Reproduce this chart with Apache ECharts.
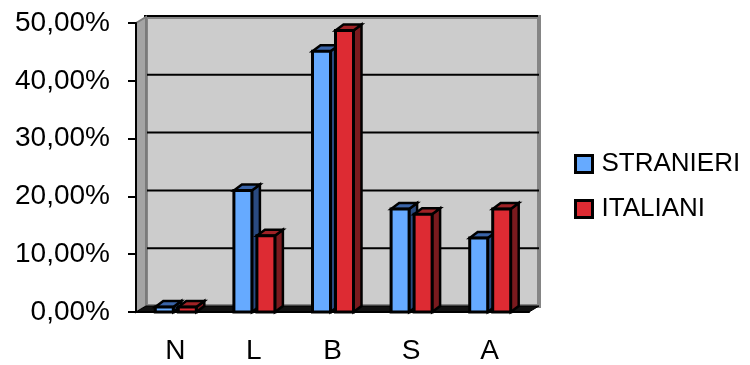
<!DOCTYPE html>
<html>
<head>
<meta charset="utf-8">
<script src="https://cdn.jsdelivr.net/npm/echarts@6/dist/echarts.min.js"></script>
<style>
	html, body { margin: 0; padding: 0; background: #fff; }
	#chart_1 { width: 750px; height: 365px; }
</style>
</head>
<body>
<div id="chart_1"></div>
<script>
// dati
var categorie = ['N', 'L', 'B', 'S', 'A'];
var stranieri = [0.85, 21.0, 45.1, 17.8, 12.8];
var italiani = [0.85, 13.2, 48.7, 16.9, 17.8];
var serieNomi = ['STRANIERI', 'ITALIANI'];
var lineeGriglia = [10, 20, 30, 40];

// profondita' finta 3D
var WALL_DX = 10, WALL_DY = -6;
var BAR_DX = 8, BAR_DY = -6;
var BAR_W = 18;
var FONT = 'Liberation Sans, Arial, sans-serif';

function fmtPerc(v) {
	return v.toFixed(2).replace('.', ',') + '%';
}

function renderWall(params, api) {
	var cs = params.coordSys;
	var x0 = cs.x, y0 = cs.y, w = cs.width, h = cs.height;
	var children = [];
	// parete di fondo
	children.push({
		type: 'rect',
		shape: { x: x0 + WALL_DX, y: y0 + WALL_DY, width: w, height: h },
		style: { fill: '#cccccc', stroke: '#858585', lineWidth: 4 }
	});
	children.push({
		type: 'line',
		shape: { x1: x0 + WALL_DX - 2, y1: y0 + WALL_DY - 1, x2: x0 + w + WALL_DX - 1, y2: y0 + WALL_DY - 1 },
		style: { stroke: '#000', lineWidth: 2 }
	});
	for (var i = 0; i < lineeGriglia.length; i++) {
		var y = api.coord([0, lineeGriglia[i]])[1] + WALL_DY;
		children.push({
			type: 'line',
			shape: { x1: x0 + WALL_DX, y1: y, x2: x0 + w + WALL_DX, y2: y },
			style: { stroke: '#000', lineWidth: 2 }
		});
	}
	// parete sinistra
	children.push({
		type: 'polygon',
		shape: { points: [[x0, y0], [x0 + WALL_DX, y0 + WALL_DY], [x0 + WALL_DX, y0 + h + WALL_DY], [x0, y0 + h]] },
		style: { fill: '#a4a4a4', stroke: '#7a7a7a', lineWidth: 2 }
	});
	// pavimento
	children.push({
		type: 'polygon',
		shape: { points: [[x0, y0 + h], [x0 + WALL_DX, y0 + h + WALL_DY], [x0 + w + WALL_DX, y0 + h + WALL_DY], [x0 + w, y0 + h]] },
		style: { fill: '#111', stroke: '#000', lineWidth: 1 }
	});
	return { type: 'group', children: children };
}

function barRenderer(offset, front, side, top) {
	return function (params, api) {
		var c = api.coord([api.value(0), api.value(1)]);
		var b = api.coord([api.value(0), 0]);
		var x1 = c[0] + offset, x2 = x1 + BAR_W, yt = c[1], yb = b[1];
		return {
			type: 'group',
			children: [{
				type: 'polygon',
				shape: { points: [[x2, yb], [x2 + BAR_DX, yb + BAR_DY], [x2 + BAR_DX, yt + BAR_DY], [x2, yt]] },
				style: { fill: side, stroke: '#000', lineWidth: 2.5 }
			}, {
				type: 'polygon',
				shape: { points: [[x1, yt], [x1 + BAR_DX, yt + BAR_DY], [x2 + BAR_DX, yt + BAR_DY], [x2, yt]] },
				style: { fill: top, stroke: '#000', lineWidth: 2.5 }
			}, {
				type: 'rect',
				shape: { x: x1, y: yt, width: BAR_W, height: yb - yt },
				style: { fill: front, stroke: '#000', lineWidth: 3 }
			}]
		};
	};
}

function toData(arr) {
	return arr.map(function (v, i) {
		return [i, v];
	});
}

var myChart = echarts.init(document.getElementById('chart_1'));
var option = {
	backgroundColor: '#fff',
	animation: false,
	textStyle: { fontFamily: FONT },
	grid: { left: 136, top: 23, width: 393, height: 293 },
	legend: {
		orient: 'vertical',
		left: 569,
		top: 146,
		itemWidth: 17,
		itemHeight: 17,
		itemGap: 19,
		icon: 'rect',
		textStyle: { fontSize: 26, color: '#000', fontFamily: FONT, padding: [0, 0, 0, 4] },
		data: [{
			name: serieNomi[0],
			itemStyle: { color: '#66aaff', borderColor: '#000', borderWidth: 3 }
		}, {
			name: serieNomi[1],
			itemStyle: { color: '#dd2b33', borderColor: '#000', borderWidth: 3 }
		}]
	},
	xAxis: {
		type: 'category',
		data: categorie,
		z: 10,
		axisLine: { lineStyle: { color: '#000', width: 2 } },
		axisTick: { length: 8, lineStyle: { color: '#000', width: 2 } },
		axisLabel: { fontSize: 28, color: '#000', margin: 25, fontFamily: FONT }
	},
	yAxis: {
		type: 'value',
		min: 0,
		max: 50,
		interval: 10,
		z: 10,
		splitLine: { show: false },
		axisLine: { show: true, lineStyle: { color: '#000', width: 2 } },
		axisTick: { show: true, length: 8, lineStyle: { color: '#000', width: 2 } },
		axisLabel: { fontSize: 28, color: '#000', margin: 26, fontFamily: FONT, formatter: fmtPerc }
	},
	series: [{
		name: 'wall',
		type: 'custom',
		z: 1,
		silent: true,
		renderItem: renderWall,
		data: [[0, 0]]
	}, {
		name: serieNomi[0],
		type: 'custom',
		z: 3,
		itemStyle: { color: '#66aaff' },
		renderItem: barRenderer(-20, '#66aaff', '#2a4a80', '#3a64a8'),
		data: toData(stranieri)
	}, {
		name: serieNomi[1],
		type: 'custom',
		z: 3,
		itemStyle: { color: '#dd2b33' },
		renderItem: barRenderer(3, '#dd2b33', '#7a1a1e', '#a02226'),
		data: toData(italiani)
	}]
};
myChart.setOption(option);
window.addEventListener('resize', function () {
	myChart.resize();
});
</script>
</body>
</html>
